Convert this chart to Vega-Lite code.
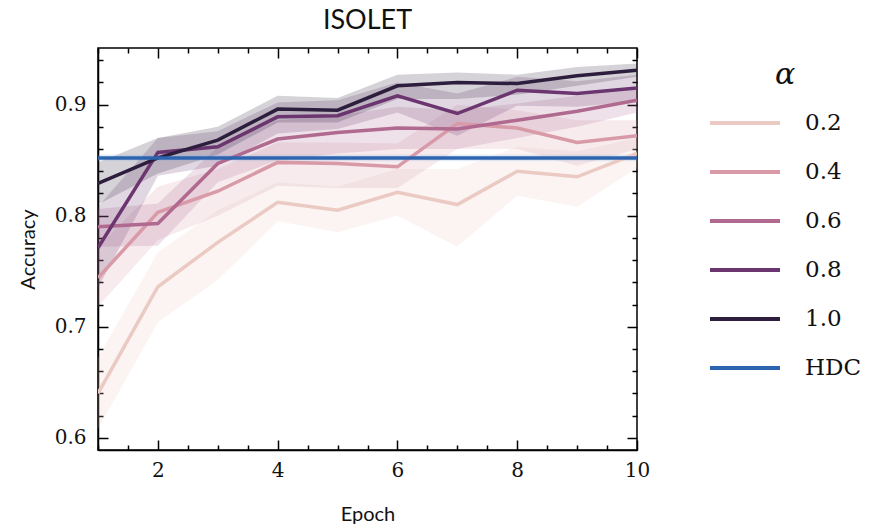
{
  "$schema": "https://vega.github.io/schema/vega-lite/v6.json",
  "width": 539,
  "height": 402,
  "autosize": {"type": "none"},
  "padding": {"left": 98, "top": 48, "right": 237, "bottom": 75},
  "background": "white",
  "title": {"text": "ISOLET", "font": "Lato", "fontSize": 27, "fontWeight": "normal", "color": "#111", "anchor": "middle", "offset": 12},
  "config": {
    "view": {"stroke": "black", "strokeWidth": 1.5},
    "axis": {"domainColor": "black", "domainWidth": 1.5, "tickColor": "black", "tickWidth": 1.5, "grid": false, "labelFont": "DejaVu Serif", "labelFontSize": 20, "labelColor": "#111", "titleFont": "Lato", "titleFontSize": 20, "titleFontWeight": "normal", "titleColor": "#111"}
  },
  "data": {"values": [
    {"s":"0.2","e":1,"m":0.640,"lo":0.608,"hi":0.672},
    {"s":"0.2","e":2,"m":0.736,"lo":0.704,"hi":0.767},
    {"s":"0.2","e":3,"m":0.776,"lo":0.742,"hi":0.805},
    {"s":"0.2","e":4,"m":0.812,"lo":0.795,"hi":0.830},
    {"s":"0.2","e":5,"m":0.805,"lo":0.785,"hi":0.826},
    {"s":"0.2","e":6,"m":0.821,"lo":0.800,"hi":0.842},
    {"s":"0.2","e":7,"m":0.810,"lo":0.772,"hi":0.842},
    {"s":"0.2","e":8,"m":0.840,"lo":0.818,"hi":0.862},
    {"s":"0.2","e":9,"m":0.835,"lo":0.808,"hi":0.858},
    {"s":"0.2","e":10,"m":0.856,"lo":0.843,"hi":0.870},
    {"s":"0.4","e":1,"m":0.744,"lo":0.718,"hi":0.772},
    {"s":"0.4","e":2,"m":0.803,"lo":0.778,"hi":0.826},
    {"s":"0.4","e":3,"m":0.822,"lo":0.800,"hi":0.842},
    {"s":"0.4","e":4,"m":0.848,"lo":0.827,"hi":0.866},
    {"s":"0.4","e":5,"m":0.847,"lo":0.825,"hi":0.866},
    {"s":"0.4","e":6,"m":0.844,"lo":0.825,"hi":0.865},
    {"s":"0.4","e":7,"m":0.883,"lo":0.860,"hi":0.900},
    {"s":"0.4","e":8,"m":0.879,"lo":0.860,"hi":0.895},
    {"s":"0.4","e":9,"m":0.866,"lo":0.845,"hi":0.886},
    {"s":"0.4","e":10,"m":0.872,"lo":0.860,"hi":0.886},
    {"s":"0.6","e":1,"m":0.790,"lo":0.772,"hi":0.806},
    {"s":"0.6","e":2,"m":0.793,"lo":0.773,"hi":0.811},
    {"s":"0.6","e":3,"m":0.847,"lo":0.830,"hi":0.862},
    {"s":"0.6","e":4,"m":0.869,"lo":0.850,"hi":0.886},
    {"s":"0.6","e":5,"m":0.875,"lo":0.856,"hi":0.890},
    {"s":"0.6","e":6,"m":0.879,"lo":0.860,"hi":0.898},
    {"s":"0.6","e":7,"m":0.878,"lo":0.860,"hi":0.895},
    {"s":"0.6","e":8,"m":0.886,"lo":0.870,"hi":0.901},
    {"s":"0.6","e":9,"m":0.894,"lo":0.880,"hi":0.908},
    {"s":"0.6","e":10,"m":0.904,"lo":0.893,"hi":0.915},
    {"s":"0.8","e":1,"m":0.771,"lo":0.735,"hi":0.808},
    {"s":"0.8","e":2,"m":0.857,"lo":0.836,"hi":0.870},
    {"s":"0.8","e":3,"m":0.862,"lo":0.845,"hi":0.876},
    {"s":"0.8","e":4,"m":0.889,"lo":0.874,"hi":0.902},
    {"s":"0.8","e":5,"m":0.890,"lo":0.878,"hi":0.904},
    {"s":"0.8","e":6,"m":0.908,"lo":0.893,"hi":0.920},
    {"s":"0.8","e":7,"m":0.892,"lo":0.872,"hi":0.910},
    {"s":"0.8","e":8,"m":0.913,"lo":0.899,"hi":0.925},
    {"s":"0.8","e":9,"m":0.910,"lo":0.898,"hi":0.921},
    {"s":"0.8","e":10,"m":0.915,"lo":0.903,"hi":0.927},
    {"s":"1.0","e":1,"m":0.829,"lo":0.810,"hi":0.848},
    {"s":"1.0","e":2,"m":0.852,"lo":0.838,"hi":0.870},
    {"s":"1.0","e":3,"m":0.868,"lo":0.855,"hi":0.880},
    {"s":"1.0","e":4,"m":0.896,"lo":0.884,"hi":0.908},
    {"s":"1.0","e":5,"m":0.895,"lo":0.884,"hi":0.906},
    {"s":"1.0","e":6,"m":0.917,"lo":0.905,"hi":0.927},
    {"s":"1.0","e":7,"m":0.920,"lo":0.905,"hi":0.929},
    {"s":"1.0","e":8,"m":0.919,"lo":0.909,"hi":0.927},
    {"s":"1.0","e":9,"m":0.926,"lo":0.917,"hi":0.934},
    {"s":"1.0","e":10,"m":0.931,"lo":0.925,"hi":0.937},
    {"s":"HDC","e":1,"m":0.852,"lo":0.849,"hi":0.855},
    {"s":"HDC","e":10,"m":0.852,"lo":0.849,"hi":0.855}
  ]},
  "resolve": {"axis": {"x": "independent", "y": "independent"}},
  "layer": [
    {
      "mark": {"type": "area", "opacity": 0.2, "clip": true},
      "encoding": {
        "x": {"field": "e", "type": "quantitative", "scale": {"domain": [1, 10], "nice": false},
          "axis": {"orient": "bottom", "title": "Epoch", "titlePadding": 24, "values": [1,1.5,2,2.5,3,3.5,4,4.5,5,5.5,6,6.5,7,7.5,8,8.5,9,9.5,10],
            "labelExpr": "datum.value % 2 == 0 ? format(datum.value, 'd') : ''",
            "tickSize": {"condition": {"test": "datum.value % 2 == 0", "value": -10}, "value": -5},
            "labelPadding": 20, "labelFlush": false}},
        "y": {"field": "lo", "type": "quantitative", "scale": {"domain": [0.589, 0.951], "nice": false, "zero": false},
          "axis": {"orient": "left", "title": "Accuracy", "titlePadding": 16, "values": [0.6,0.62,0.64,0.66,0.68,0.7,0.72,0.74,0.76,0.78,0.8,0.82,0.84,0.86,0.88,0.9,0.92,0.94],
            "labelExpr": "abs(datum.value*10 - round(datum.value*10)) < 0.001 ? format(datum.value, '.1f') : ''",
            "tickSize": {"condition": {"test": "abs(datum.value*10 - round(datum.value*10)) < 0.001", "value": -10}, "value": -5},
            "labelPadding": 22}},
        "y2": {"field": "hi"},
        "fill": {"field": "s", "type": "nominal", "legend": null,
          "scale": {"range": ["#ebcac3","#d99aa8","#b0698f","#6b356f","#2d1e3e","#7fa8dc"]}}
      }
    },
    {
      "mark": {"type": "line", "strokeWidth": 3.5, "clip": true},
      "encoding": {
        "x": {"field": "e", "type": "quantitative",
          "axis": {"orient": "top", "title": null, "labels": false, "domain": false, "values": [1,1.5,2,2.5,3,3.5,4,4.5,5,5.5,6,6.5,7,7.5,8,8.5,9,9.5,10],
            "tickSize": {"condition": {"test": "datum.value % 2 == 0", "value": -10}, "value": -5}}},
        "y": {"field": "m", "type": "quantitative",
          "axis": {"orient": "right", "title": null, "labels": false, "domain": false, "values": [0.6,0.62,0.64,0.66,0.68,0.7,0.72,0.74,0.76,0.78,0.8,0.82,0.84,0.86,0.88,0.9,0.92,0.94],
            "tickSize": {"condition": {"test": "abs(datum.value*10 - round(datum.value*10)) < 0.001", "value": -10}, "value": -5}}},
        "color": {"field": "s", "type": "nominal", "title": "α",
          "scale": {"domain": ["0.2","0.4","0.6","0.8","1.0","HDC"], "range": ["#ebcac3","#d99aa8","#b0698f","#6b356f","#2d1e3e","#2c64b0"]},
          "legend": {"orient": "none", "legendX": 610, "legendY": 12, "symbolType": "stroke", "symbolSize": 4900, "symbolStrokeWidth": 4,
            "labelFont": "DejaVu Serif", "labelFontSize": 23, "labelColor": "#111", "labelOffset": 23,
            "titleFont": "DejaVu Serif", "titleFontSize": 30, "titleFontStyle": "italic", "titleFontWeight": "normal", "titleColor": "#111",
            "titleAnchor": "middle", "titlePadding": -4, "rowPadding": -21}}
      }
    }
  ]
}
